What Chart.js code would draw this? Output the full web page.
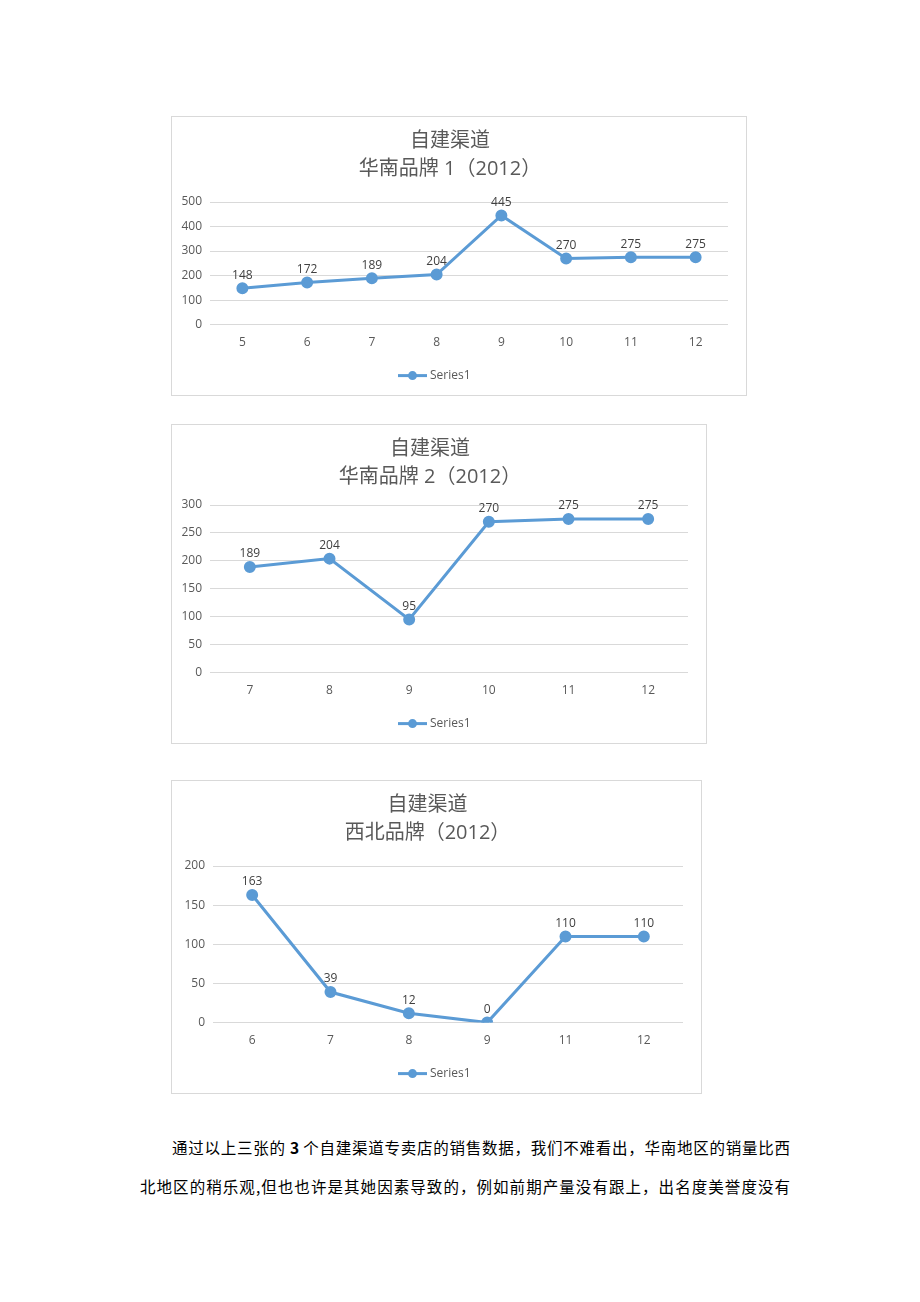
<!DOCTYPE html>
<html>
<head>
<meta charset="utf-8">
<script src="https://cdn.jsdelivr.net/npm/chart.js@4.4.1/dist/chart.umd.min.js"></script>
<style>
  body { margin: 0; background: #fff; width: 920px; height: 1302px; position: relative; font-family: "Noto Sans CJK SC", sans-serif; }
  .box { position: absolute; border: 1px solid #d9d9d9; box-sizing: border-box; background: #fff; }
  .box canvas { display: block; }
  .para { position: absolute; left: 140px; width: 650px; top: 1128px; font-size: 15.5px; color: #000; line-height: 39px; }
  .para div { text-align: justify; text-align-last: justify; white-space: nowrap; }
  .para div.first { padding-left: 32px; }
</style>
</head>
<body>
<div class="box" style="left:171px;top:116px;width:576px;height:280px;"><canvas id="c1"></canvas></div>
<div class="box" style="left:171px;top:424px;width:536px;height:320px;"><canvas id="c2"></canvas></div>
<div class="box" style="left:171px;top:780px;width:531px;height:314px;"><canvas id="c3"></canvas></div>
<div class="para">
  <div class="first">通过以上三张的 <b>3</b> 个自建渠道专卖店的销售数据，我们不难看出，华南地区的销量比西</div>
  <div>北地区的稍乐观,但也也许是其她因素导致的，例如前期产量没有跟上，出名度美誉度没有</div>
</div>
<script>
// 华南品牌1
const months1 = ['5', '6', '7', '8', '9', '10', '11', '12'];
const sales1 = [148, 172, 189, 204, 445, 270, 275, 275];
// 华南品牌2
const months2 = ['7', '8', '9', '10', '11', '12'];
const sales2 = [189, 204, 95, 270, 275, 275];
// 西北品牌
const months3 = ['6', '7', '8', '9', '11', '12'];
const sales3 = [163, 39, 12, 0, 110, 110];

const lineColor = '#5b9bd5';
const fontFam = '"Open Sans", "Noto Sans CJK SC", sans-serif';

// etiquetas de valores sobre cada punto
const valueLabels = {
    id: 'valueLabels',
    afterDatasetsDraw(chart) {
        const ctx = chart.ctx;
        ctx.save();
        ctx.font = '12px ' + fontFam;
        ctx.fillStyle = '#404040';
        ctx.textAlign = 'center';
        ctx.textBaseline = 'bottom';
        chart.data.datasets.forEach((ds, i) => {
            chart.getDatasetMeta(i).data.forEach((pt, j) => {
                ctx.fillText(ds.data[j], pt.x, pt.y - 7);
            });
        });
        ctx.restore();
    }
};

// leyenda estilo Excel: linea con marcador y nombre de la serie
const lineLegend = {
    id: 'lineLegend',
    afterDraw(chart) {
        const ctx = chart.ctx;
        const x = 226;
        const y = chart.chartArea.bottom + 51;
        ctx.save();
        ctx.strokeStyle = lineColor;
        ctx.fillStyle = lineColor;
        ctx.lineWidth = 3;
        ctx.beginPath(); ctx.moveTo(x, y); ctx.lineTo(x + 29, y); ctx.stroke();
        ctx.beginPath(); ctx.arc(x + 14.5, y, 4.5, 0, Math.PI * 2); ctx.fill();
        ctx.font = '12px ' + fontFam;
        ctx.fillStyle = '#595959';
        ctx.textAlign = 'left';
        ctx.textBaseline = 'middle';
        ctx.fillText(chart.data.datasets[0].label, x + 32, y);
        ctx.restore();
    }
};

function makeChart(id, titleLine2, labels, values, yMax, yStep, yWidth, titleGap) {
    new Chart(document.getElementById(id), {
        type: 'line',
        data: {
            labels: labels,
            datasets: [{
                label: 'Series1',
                data: values,
                borderColor: lineColor,
                backgroundColor: lineColor,
                borderWidth: 3,
                pointRadius: 4.5,
                pointHoverRadius: 4.5,
                tension: 0
            }]
        },
        options: {
            responsive: true,
            maintainAspectRatio: false,
            animation: false,
            layout: { padding: { left: 0, right: 18, top: 10, bottom: 42 } },
            plugins: {
                title: {
                    display: true,
                    text: ['自建渠道', titleLine2],
                    color: '#595959',
                    font: { size: 20, weight: 'normal', family: fontFam, lineHeight: 1.4 },
                    padding: { top: 0, bottom: titleGap }
                },
                legend: { display: false },
                tooltip: { enabled: false }
            },
            scales: {
                x: {
                    offset: true,
                    grid: { display: false },
                    border: { display: false },
                    ticks: { color: '#595959', font: { size: 12, family: fontFam }, padding: 3 }
                },
                y: {
                    min: 0,
                    max: yMax,
                    ticks: { stepSize: yStep, color: '#595959', font: { size: 12, family: fontFam }, padding: 8 },
                    grid: { color: '#d9d9d9', drawTicks: false },
                    border: { display: false },
                    afterFit: (scale) => { scale.width = yWidth; }
                }
            }
        },
        plugins: [valueLabels, lineLegend]
    });
}

makeChart('c1', '华南品牌 1（2012）', months1, sales1, 500, 100, 38, 19);
makeChart('c2', '华南品牌 2（2012）', months2, sales2, 300, 50, 38, 14);
makeChart('c3', '西北品牌（2012）', months3, sales3, 200, 50, 41, 19);
</script>
</body>
</html>
